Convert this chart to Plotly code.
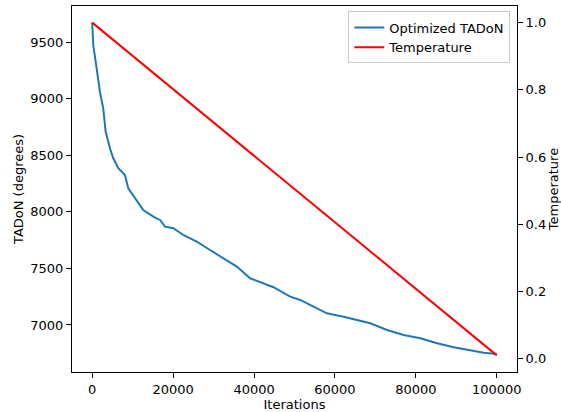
import plotly.graph_objects as go

# Data
iterations = [0, 250, 1090, 1900, 2720, 3310, 4380, 5200, 6440, 8090, 8910, 10570,
              12620, 15100, 16760, 17990, 20050, 22520, 25840, 29130, 32420, 35740,
              39030, 42320, 44800, 48930, 51400, 54700, 58010, 62120, 66260, 68730,
              72860, 76970, 81100, 85240, 89350, 93480, 96770, 100000]
tadon = [9675, 9476, 9270, 9063, 8916, 8710, 8563, 8474, 8386, 8327, 8209, 8125,
         8017, 7958, 7929, 7869, 7855, 7796, 7737, 7663, 7590, 7516,
         7413, 7369, 7334, 7250, 7221, 7162, 7103, 7073, 7038, 7015,
         6956, 6912, 6882, 6838, 6803, 6773, 6755, 6744]
temp_iter = [0, 100000]
temperature = [1.0, 0.01]

xticks = [0, 20000, 40000, 60000, 80000, 100000]
yticks = [7000, 7500, 8000, 8500, 9000, 9500]
y2ticks = [0.0, 0.2, 0.4, 0.6, 0.8, 1.0]

font = dict(family="DejaVu Sans", size=13, color="black")

fig = go.Figure()
fig.add_trace(go.Scatter(x=iterations, y=tadon, mode="lines", name="Optimized TADoN",
                         line=dict(color="#1f77b4", width=2)))
fig.add_trace(go.Scatter(x=temp_iter, y=temperature, mode="lines", name="Temperature",
                         line=dict(color="red", width=2), yaxis="y2"))

axis_common = dict(showgrid=False, zeroline=False, ticks="outside", ticklen=5,
                   tickcolor="black", tickwidth=1, linecolor="black", linewidth=1,
                   showline=True, tickfont=font, automargin=False)

fig.update_layout(
    width=561, height=412,
    margin=dict(l=72, r=44, t=6, b=40),
    paper_bgcolor="white", plot_bgcolor="white",
    font=font,
    showlegend=True,
    legend=dict(x=0.985, y=0.985, xanchor="right", yanchor="top",
                bordercolor="#cccccc", borderwidth=1, bgcolor="rgba(255,255,255,0.8)",
                font=dict(family="DejaVu Sans", size=13, color="black"),
                tracegroupgap=0),
    xaxis=dict(**axis_common, range=[-5000, 105000], tickvals=xticks,
               ticktext=[str(v) for v in xticks], mirror=True,
               title=dict(text="Iterations", font=font, standoff=3)),
    yaxis=dict(**axis_common, range=[6584, 9821], tickvals=yticks,
               ticktext=[str(v) for v in yticks],
               title=dict(text="TADoN (degrees)", font=font, standoff=3)),
    yaxis2=dict(**axis_common, range=[-0.0395, 1.0495], tickvals=y2ticks,
                ticktext=[f"{v:.1f}" for v in y2ticks], overlaying="y", side="right",
                title=dict(text="Temperature", font=font, standoff=6)),
)

fig.write_html("out.html", config={"displayModeBar": False},
               post_script="document.body.style.margin='0';document.body.style.overflow='hidden';")
